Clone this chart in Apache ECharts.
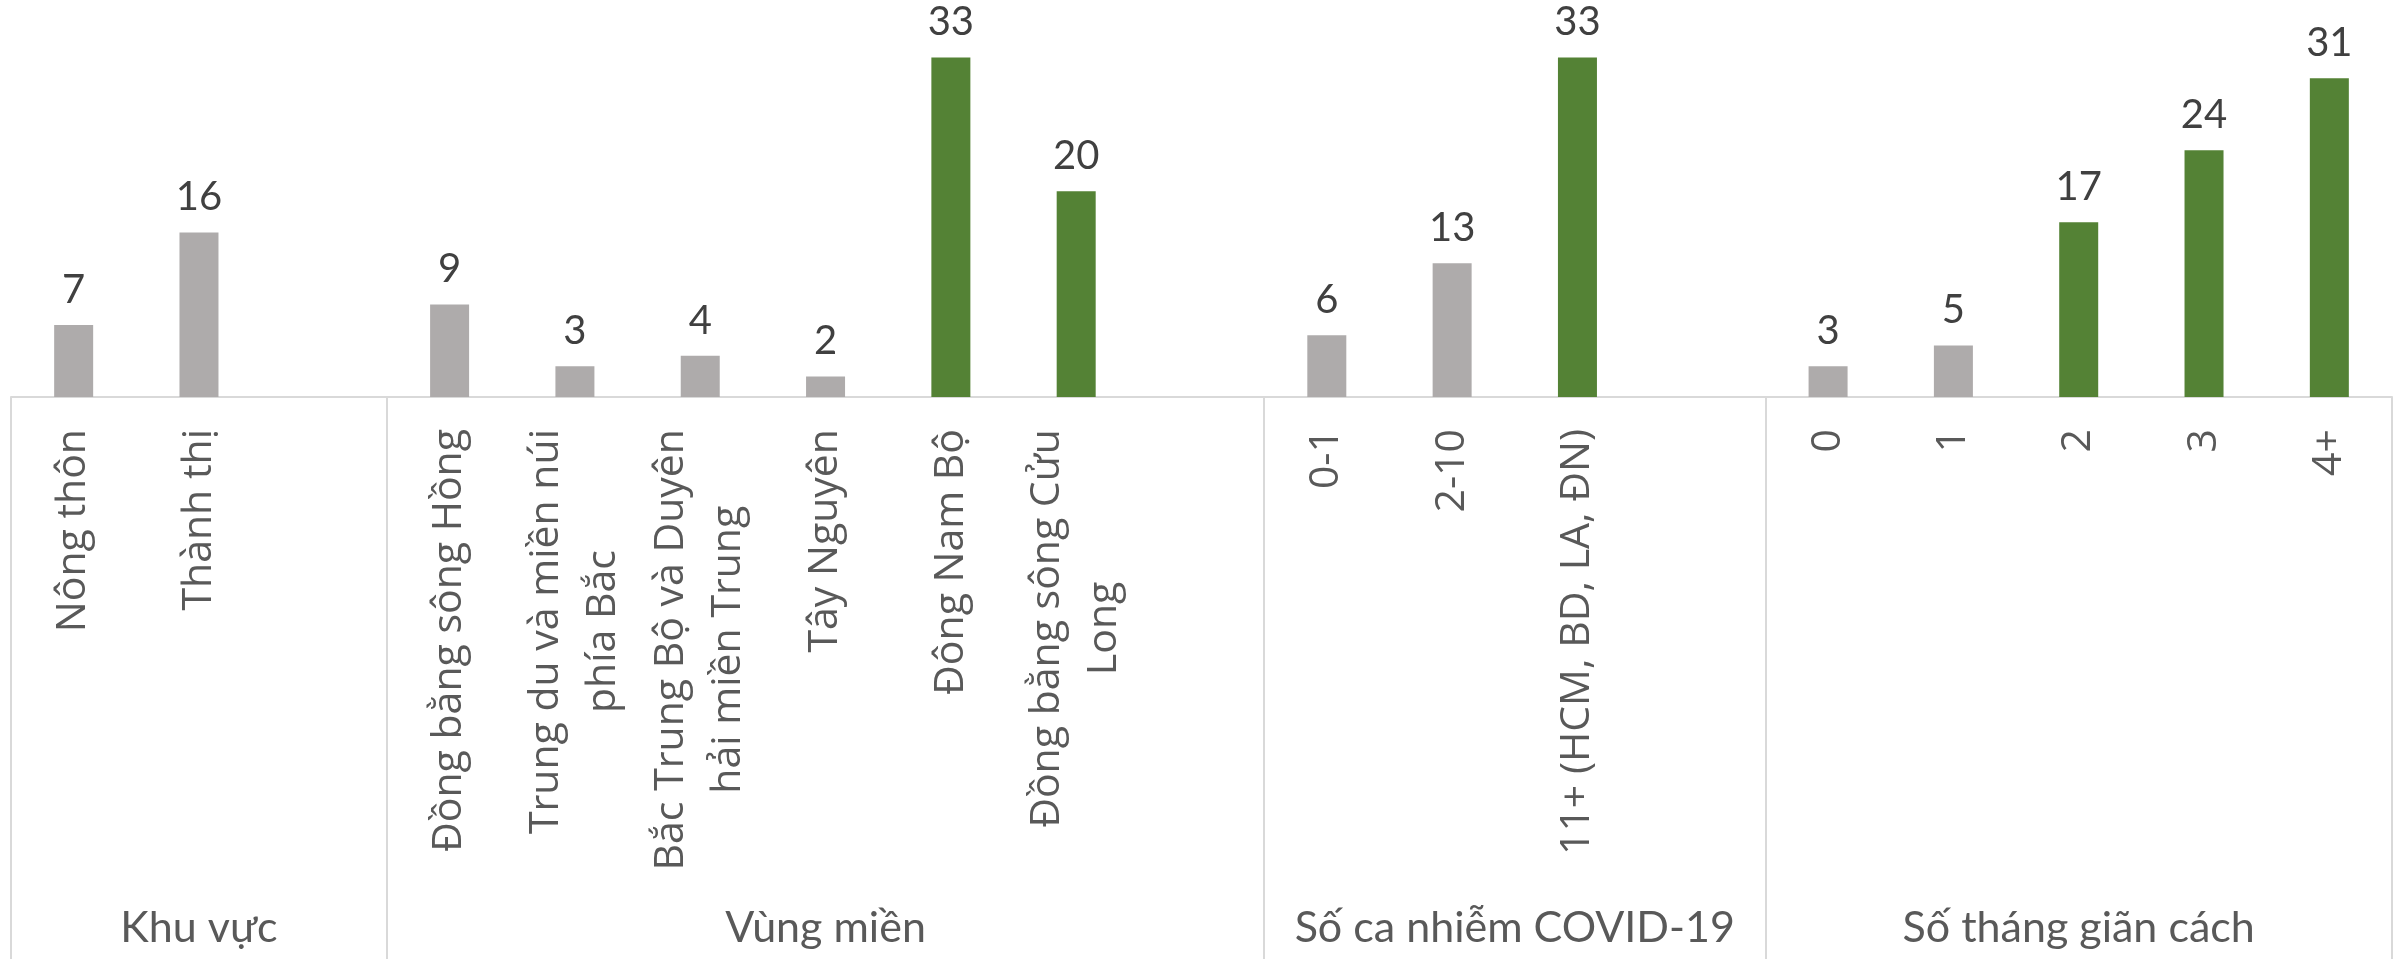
<!DOCTYPE html>
<html>
<head>
<meta charset="utf-8">
<script src="https://cdn.jsdelivr.net/npm/echarts@6/dist/echarts.min.js"></script>
<style>
  html, body { margin: 0; padding: 0; background: #fff; }
  #chart { width: 2402px; height: 959px; }
</style>
</head>
<body>
<div id="chart"></div>
<script>
// categories (empty strings are the blank spacer slots between groups)
const categories = [
  'Nông thôn', 'Thành thị', '',
  'Đồng bằng sông Hồng', 'Trung du và miền núi\nphía Bắc', 'Bắc Trung Bộ và Duyên\nhải miền Trung',
  'Tây Nguyên', 'Đông Nam Bộ', 'Đồng bằng sông Cửu\nLong', '',
  '0-1', '2-10', '11+ (HCM, BD, LA, ĐN)', '',
  '0', '1', '2', '3', '4+'
]
const greyValues = [7, 16, '-', 9, 3, 4, 2, '-', '-', '-', 6, 13, '-', '-', 3, 5, '-', '-', '-']
const greenValues = ['-', '-', '-', '-', '-', '-', '-', 33, 20, '-', '-', '-', 33, '-', '-', '-', 17, 24, 31]

// groups on the second axis level
const groupNames = ['Khu vực', 'Vùng miền', 'Số ca nhiễm COVID-19', 'Số tháng giãn cách']
const groupSizes = [3, 7, 4, 5]

// half-slot axis for group labels and separators
let groupAxisData = []
let groupLabelIdx = []
let groupTickIdx = [0]
let pos = 0
groupSizes.forEach((n, i) => {
  groupLabelIdx.push(pos + n)
  pos += 2 * n
  groupTickIdx.push(pos)
})
for (let i = 0; i <= pos; i++) groupAxisData.push('')
groupLabelIdx.forEach((idx, i) => { groupAxisData[idx] = groupNames[i] })

const FONT = 'Lato, "Open Sans", sans-serif'
const LABEL_FONT = '"Open Sans", sans-serif'
const GREY = '#AEABAB'
const GREEN = '#548235'

let myChart = echarts.init(document.getElementById('chart'))
let option = {
  backgroundColor: '#fff',
  animation: false,
  grid: { left: 11, right: 10, top: 37, bottom: 562, containLabel: false },
  xAxis: [
    {
      type: 'category',
      position: 'bottom',
      data: categories,
      axisLine: { lineStyle: { color: '#D9D9D9', width: 2 } },
      axisTick: { show: false },
      axisLabel: {
        interval: 0,
        rotate: 90,
        margin: 32,
        fontSize: 41,
        fontFamily: LABEL_FONT,
        formatter: function (val) {
          if (!val) return ''
          return val.split('\n').map(s => '{c|' + s + '}').join('\n')
        },
        rich: {
          c: { align: 'center', fontSize: 41, fontFamily: LABEL_FONT, color: '#595959', lineHeight: 57 }
        }
      }
    },
    {
      type: 'category',
      position: 'bottom',
      boundaryGap: false,
      data: groupAxisData,
      axisLine: { show: false },
      axisTick: {
        show: true,
        length: 562,
        interval: function (index) { return groupTickIdx.indexOf(index) >= 0 },
        lineStyle: { color: '#D9D9D9', width: 2 }
      },
      axisLabel: {
        interval: function (index) { return groupLabelIdx.indexOf(index) >= 0 },
        margin: 510,
        fontSize: 43,
        fontFamily: FONT,
        color: '#595959'
      }
    }
  ],
  yAxis: {
    type: 'value',
    min: 0,
    max: 35,
    show: false
  },
  series: [
    {
      name: 'grey',
      type: 'bar',
      xAxisIndex: 0,
      data: greyValues,
      barWidth: 39,
      barGap: '-100%',
      itemStyle: { color: GREY },
      label: { show: true, position: 'top', distance: 15, fontSize: 40, fontFamily: FONT, color: '#404040' }
    },
    {
      name: 'green',
      type: 'bar',
      xAxisIndex: 0,
      data: greenValues,
      barWidth: 39,
      barGap: '-100%',
      itemStyle: { color: GREEN },
      label: { show: true, position: 'top', distance: 15, fontSize: 40, fontFamily: FONT, color: '#404040' }
    }
  ]
}
myChart.setOption(option)
</script>
</body>
</html>
